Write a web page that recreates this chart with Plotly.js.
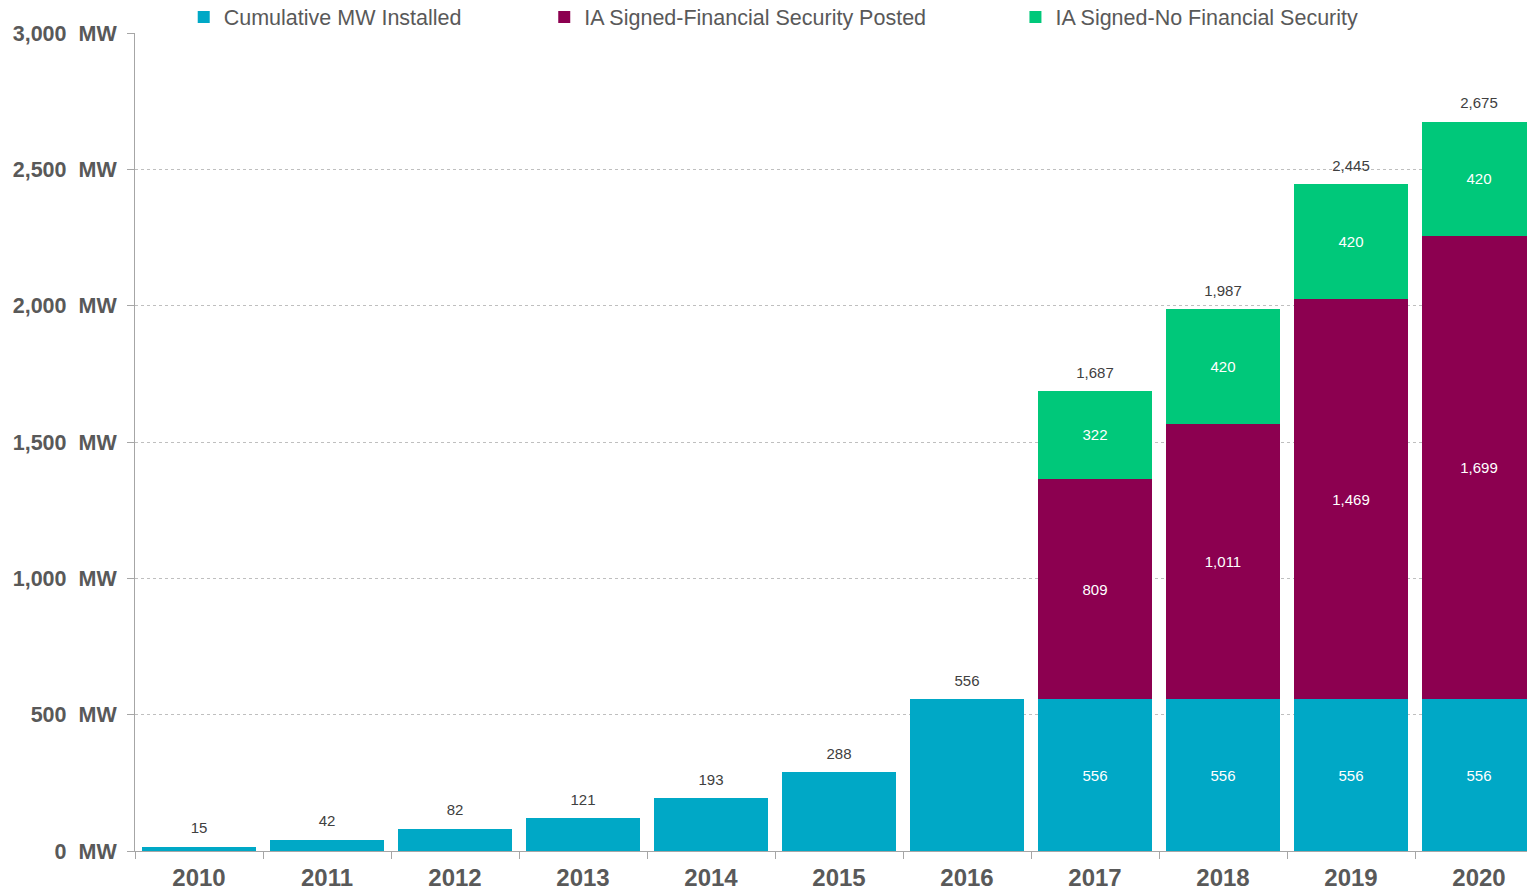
<!DOCTYPE html>
<html>
<head>
<meta charset="utf-8">
<script src="https://cdn.plot.ly/plotly-3.0.1.min.js"></script>
<style>html,body{margin:0;padding:0;background:#fff}#chart{width:1527px;height:893px}</style>
</head>
<body>
<div id="chart"></div>
<script>
const years = ["2010","2011","2012","2013","2014","2015","2016","2017","2018","2019","2020"];
const installed = [15,42,82,121,193,288,556,556,556,556,556];
const withSecurity = [0,0,0,0,0,0,0,809,1011,1469,1699];
const noSecurity = [0,0,0,0,0,0,0,322,420,420,420];
const yTickVals = [0,500,1000,1500,2000,2500,3000];
const yTickText = ["0  MW","500  MW","1,000  MW","1,500  MW","2,000  MW","2,500  MW","3,000  MW"];
const seriesNames = ["Cumulative MW Installed","IA Signed-Financial Security Posted","IA Signed-No Financial Security"];

const fmt = v => v.toLocaleString("en-US");
const totals = years.map((_, i) => installed[i] + withSecurity[i] + noSecurity[i]);
const stacked = years.map((_, i) => withSecurity[i] + noSecurity[i] > 0);

const colors = ["#00A8C6", "#8C0050", "#00C87A"];
const font = "Liberation Sans, Arial, sans-serif";
const inside = {family: font, size: 15, color: "#ffffff"};

const traces = [
  {type: "bar", name: seriesNames[0], x: years, y: installed, marker: {color: colors[0]},
   text: installed.map((v, i) => stacked[i] ? fmt(v) : ""), textposition: "inside",
   insidetextanchor: "middle", textfont: inside, hoverinfo: "x+y", legend: "legend"},
  {type: "bar", name: seriesNames[1], x: years, y: withSecurity, marker: {color: colors[1]},
   text: withSecurity.map(v => v > 0 ? fmt(v) : ""), textposition: "inside",
   insidetextanchor: "middle", textfont: inside, hoverinfo: "x+y", legend: "legend2"},
  {type: "bar", name: seriesNames[2], x: years, y: noSecurity, marker: {color: colors[2]},
   text: noSecurity.map(v => v > 0 ? fmt(v) : ""), textposition: "inside",
   insidetextanchor: "middle", textfont: inside, hoverinfo: "x+y", legend: "legend3"},
  {type: "scatter", mode: "markers+text", x: years, y: totals, text: totals.map(fmt),
   marker: {size: 14, color: "rgba(0,0,0,0)"},
   textposition: "top center", textfont: {family: font, size: 15, color: "#404040"},
   showlegend: false, hoverinfo: "skip", cliponaxis: false}
];

const legendBase = {orientation: "h", yanchor: "middle", y: 1.0196, xanchor: "left",
  font: {family: font, size: 21.5, color: "#595959"}, bgcolor: "rgba(0,0,0,0)", itemclick: false};

const layout = {
  width: 1527, height: 893,
  margin: {l: 135, r: 0, t: 33, b: 42, autoexpand: false},
  paper_bgcolor: "#ffffff", plot_bgcolor: "#ffffff",
  barmode: "stack", bargap: 0.11,
  showlegend: true,
  legend: Object.assign({}, legendBase, {x: 0.035}),
  legend2: Object.assign({}, legendBase, {x: 0.294}),
  legend3: Object.assign({}, legendBase, {x: 0.6325}),
  xaxis: {type: "category", range: [-0.5, 10.375], tickson: "boundaries",
    ticks: "outside", ticklen: 7, tickcolor: "#a6a6a6", showline: true, linecolor: "#a6a6a6",
    tickfont: {family: font, size: 24, color: "#595959", weight: "bold"},
    ticklabelstandoff: 5,
    showgrid: false, automargin: false, fixedrange: true},
  yaxis: {range: [0, 3000], tickvals: yTickVals, ticktext: yTickText,
    ticks: "outside", ticklen: 7, tickcolor: "#a6a6a6", showline: true, linecolor: "#a6a6a6",
    tickfont: {family: font, size: 21.5, color: "#595959", weight: "bold"},
    ticklabelstandoff: 6,
    showgrid: true, gridcolor: "#bfbfbf", griddash: "dot", gridwidth: 1,
    zeroline: false, automargin: false, fixedrange: true},
  font: {family: font}
};

Plotly.newPlot("chart", traces, layout, {displayModeBar: false, staticPlot: true});
</script>
</body>
</html>
